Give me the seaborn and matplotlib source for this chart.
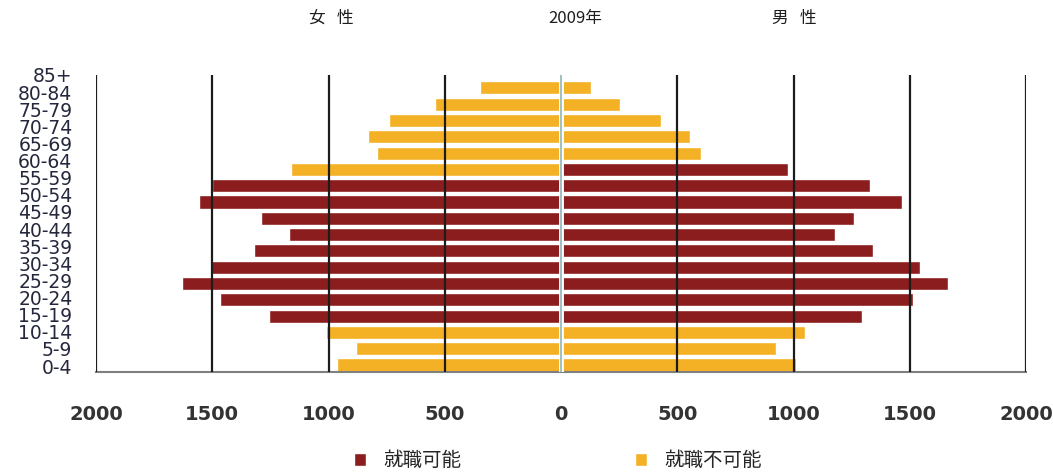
import numpy as np
import pandas as pd
import matplotlib
matplotlib.use("Agg")
import matplotlib.pyplot as plt
import seaborn as sns
from matplotlib.patches import Patch

# Age groups, top to bottom
ages = ['85+', '80-84', '75-79', '70-74', '65-69', '60-64', '55-59', '50-54',
        '45-49', '40-44', '35-39', '30-34', '25-29', '20-24', '15-19',
        '10-14', '5-9', '0-4']

# Population (thousands), 2009
female = [350, 540, 740, 830, 790, 1160, 1500, 1555, 1290, 1170, 1320, 1510,
          1630, 1465, 1255, 1010, 880, 965]
male = [130, 255, 430, 555, 600, 975, 1330, 1465, 1260, 1180, 1340, 1545,
        1665, 1515, 1295, 1050, 925, 1010]

ABLE = '就職可能'
UNABLE = '就職不可能'
female_status = [UNABLE] * 6 + [ABLE] * 9 + [UNABLE] * 3
male_status = [UNABLE] * 5 + [ABLE] * 10 + [UNABLE] * 3

x_ticks = [-2000, -1500, -1000, -500, 0, 500, 1000, 1500, 2000]

palette = {ABLE: '#8c1d1f', UNABLE: '#f5b125'}
cjk = ['Noto Sans CJK JP', 'DejaVu Sans']

sns.set_style('white')
plt.rcParams['font.family'] = ['DejaVu Sans', 'Noto Sans CJK JP']

W, H = 1053, 474
fig = plt.figure(figsize=(W / 100, H / 100), dpi=100)
ax = fig.add_axes([96 / W, 1 - 372 / H, (1026 - 96) / W, (372 - 75) / H])

df_f = pd.DataFrame({'age': ages, 'value': -np.array(female), 'status': female_status})
df_m = pd.DataFrame({'age': ages, 'value': np.array(male), 'status': male_status})

for d in (df_f, df_m):
    sns.barplot(data=d, x='value', y='age', hue='status', order=ages,
                hue_order=[ABLE, UNABLE], palette=palette, dodge=False,
                width=0.8, orient='h', ax=ax, legend=False, saturation=1,
                errorbar=None, zorder=2)

ax.set_xlim(-2000, 2000)
ax.set_ylim(17.43, -0.67)

# vertical reference lines
for v in x_ticks:
    if v == 0:
        continue
    ax.axvline(v, color='#1c1c1c', lw=1.6, zorder=3)
ax.axvline(0, color='white', lw=3.5, zorder=3)
ax.axvline(0, color='#8fb6b6', lw=1.2, zorder=4)

ax.set_xticks(x_ticks)
ax.set_xticklabels([str(abs(v)) for v in x_ticks], fontsize=14,
                   fontweight='bold', color='#333333')
ax.tick_params(axis='x', length=0, pad=24)

label_pos = np.arange(len(ages)) * 1.0505 - 0.79
ax.set_yticks(label_pos)
ax.set_yticklabels(ages, fontsize=13.5, color='#25283c')
ax.tick_params(axis='y', length=0, pad=17)

ax.set_xlabel('')
ax.set_ylabel('')
for s in ('top', 'left', 'right'):
    ax.spines[s].set_visible(False)
ax.spines['bottom'].set_color('#7f7f7f')
ax.spines['bottom'].set_linewidth(1.5)

fig.text(331 / W, 1 - 18 / H, '女   性', ha='center', va='center',
         fontsize=12, family=cjk, color='#1e1e1e')
fig.text(575 / W, 1 - 18 / H, '2009年', ha='center', va='center',
         fontsize=12, family=cjk, color='#1e1e1e')
fig.text(794 / W, 1 - 18 / H, '男   性', ha='center', va='center',
         fontsize=12, family=cjk, color='#1e1e1e')

handles = [Patch(facecolor=palette[ABLE]), Patch(facecolor=palette[UNABLE])]
fig.legend(handles, [ABLE, UNABLE], loc='center',
           bbox_to_anchor=(558 / W, 1 - 461 / H), ncol=2, frameon=False,
           prop={'family': cjk, 'size': 14}, handlelength=0.62,
           handleheight=0.62, handletextpad=0.9, columnspacing=8.9,
           borderpad=0)

fig.savefig('out.png', dpi=100, facecolor='white')
